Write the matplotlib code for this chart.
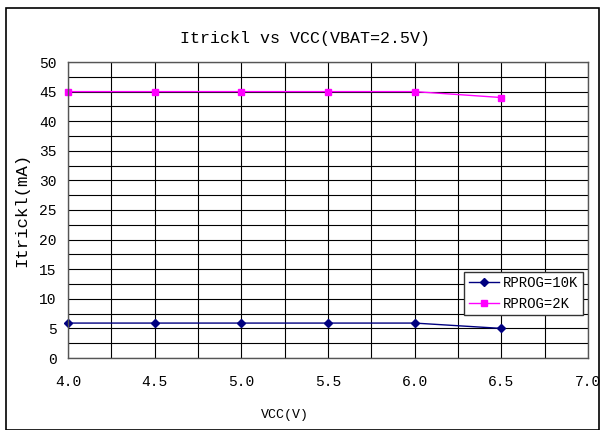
import matplotlib
matplotlib.use("Agg")
import matplotlib.pyplot as plt
from matplotlib.patches import Rectangle

vcc = [4.0, 4.5, 5.0, 5.5, 6.0, 6.5]
i_10k = [5.9, 5.9, 5.9, 5.9, 5.9, 5.0]
i_2k = [45.0, 45.0, 45.0, 45.0, 45.0, 44.0]
xticks = [4.0, 4.5, 5.0, 5.5, 6.0, 6.5, 7.0]
xtick_labels = ["4.0", "4.5", "5.0", "5.5", "6.0", "6.5", "7.0"]
yticks = [0, 5, 10, 15, 20, 25, 30, 35, 40, 45, 50]

plt.rcParams['font.family'] = ['Liberation Mono', 'DejaVu Sans Mono']
fig = plt.figure(figsize=(6.02, 4.30), dpi=100)
fig.patches.append(Rectangle((6/602, 0), 593/602, 1 - 8/430, transform=fig.transFigure,
                             fill=False, edgecolor='black', linewidth=1.2))
ax = fig.add_axes([68/602, 1 - 358/430, 520/602, 296/430])

ax.set_xlim(4.0, 7.0)
ax.set_ylim(0, 50)
ax.set_xticks(xticks)
ax.set_xticklabels(xtick_labels)
ax.set_yticks(yticks)
ax.set_xticks([4 + 0.25 * k for k in range(13)], minor=True)
ax.set_yticks([2.5 * k for k in range(21)], minor=True)
ax.grid(True, which='both', color='black', linewidth=0.8)
ax.tick_params(which='both', length=0)
ax.tick_params(axis='x', pad=12, labelsize=10.5)
ax.tick_params(axis='y', pad=8, labelsize=10.5)
for s in ax.spines.values():
    s.set_linewidth(1.0)
    s.set_color('#555555')

ax.plot(vcc, i_10k, color='#000080', marker='D', markersize=4, linewidth=1.0, label='RPROG=10K', clip_on=False)
ax.plot(vcc, i_2k, color='#FF00FF', marker='s', markersize=4.5, linewidth=1.0, label='RPROG=2K', clip_on=False)

fig.text(305/602, 1 - 38/430, 'Itrickl vs VCC(VBAT=2.5V)', fontsize=12, ha='center', va='center')
fig.text(285/602, 1 - 415/430, 'VCC(V)', fontsize=9.5, ha='center', va='center')
fig.text(22/602, 1 - 210/430, 'Itrickl(mA)', fontsize=12.5, ha='center', va='center', rotation=90)

leg = ax.legend(loc='lower right', bbox_to_anchor=(0.99, 0.145), fontsize=10,
                frameon=True, fancybox=False, edgecolor='#333333', framealpha=1,
                borderpad=0.3, labelspacing=0.5, handlelength=2.2, handletextpad=0.3,
                borderaxespad=0)
leg.get_frame().set_linewidth(1.0)

fig.savefig('out.png', dpi=100)
